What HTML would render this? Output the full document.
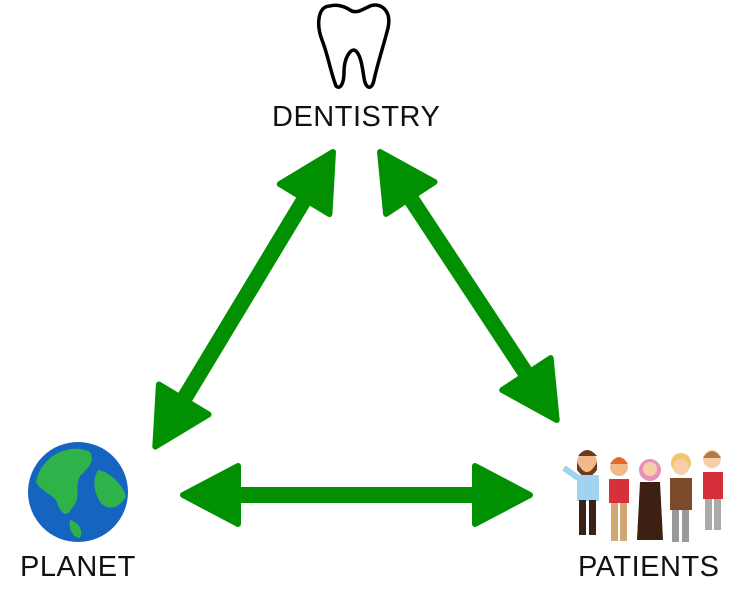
<!DOCTYPE html>
<html><head><style>
html,body{margin:0;padding:0;background:#fff;}
.t{position:absolute;font-family:"Liberation Sans",sans-serif;font-size:29px;color:#111;letter-spacing:0.5px;}
</style></head><body>
<div style="position:relative;width:743px;height:605px;overflow:hidden;">
<svg width="743" height="605" style="position:absolute;left:0;top:0">
<defs>
<g id="arr">
<polygon points="0,0 55,-29 55,29" fill="#019001" stroke="#019001" stroke-width="6" stroke-linejoin="round"/>
</g>
</defs>
<!-- left diagonal -->
<g transform="translate(333,152) rotate(121.1)">
<line x1="40" y1="0" x2="305" y2="0" stroke="#019001" stroke-width="16"/>
<use href="#arr"/>
<use href="#arr" transform="translate(344,0) rotate(180)"/>
</g>
<g transform="translate(380,152) rotate(56.6)">
<line x1="40" y1="0" x2="281" y2="0" stroke="#019001" stroke-width="16"/>
<use href="#arr"/>
<use href="#arr" transform="translate(321,0) rotate(180)"/>
</g>
<g transform="translate(183,495)">
<line x1="40" y1="0" x2="307" y2="0" stroke="#019001" stroke-width="16"/>
<use href="#arr"/>
<use href="#arr" transform="translate(347,0) rotate(180)"/>
</g>
<!-- tooth -->
<path d="M330,6 C318,6 316,24 322,40 C328,55 330,70 336,86 C340,90 344,84 344,72 C344,58 350,50 354,50 C360,52 362,64 364,78 C366,90 372,90 374,80 C378,62 384,44 388,28 C392,10 380,2 370,6 C362,10 356,14 350,10 C344,6 336,4 330,6 Z" fill="none" stroke="#000" stroke-width="3.5" stroke-linejoin="round"/>
<!-- earth -->
<circle cx="78" cy="492" r="50" fill="#1565c0"/>
<path d="M48,460 C60,448 80,446 90,452 C96,462 86,470 80,476 C74,488 82,498 72,508 C66,520 60,512 56,500 C48,492 40,490 36,482 C38,472 42,466 48,460 Z" fill="#2db34a"/>
<path d="M98,470 C110,472 122,484 126,496 C120,508 108,512 100,502 C94,492 92,480 98,470 Z" fill="#2db34a"/>
<path d="M70,520 C78,522 84,530 80,538 C74,538 68,530 70,520 Z" fill="#2db34a"/>
<!-- people -->
<g>
<circle cx="587" cy="462" r="10" fill="#f2b98a"/><path d="M577,462 q10,20 20,0 v8 q-10,14 -20,0z" fill="#6b3b1e"/><path d="M578,456 q9,-12 19,0z" fill="#6b3b1e"/>
<rect x="577" y="475" width="22" height="26" fill="#9fd3ee"/><line x1="578" y1="478" x2="564" y2="468" stroke="#9fd3ee" stroke-width="6"/>
<rect x="579" y="500" width="7" height="35" fill="#3a2216"/><rect x="589" y="500" width="7" height="35" fill="#3a2216"/>
<circle cx="619" cy="467" r="9" fill="#f2b98a"/><path d="M610,464 q9,-14 18,0z" fill="#e06a2a"/>
<rect x="609" y="479" width="20" height="24" fill="#d6313a"/><rect x="611" y="503" width="7" height="38" fill="#d2a774"/><rect x="620" y="503" width="7" height="38" fill="#d2a774"/>
<circle cx="650" cy="470" r="11" fill="#e890b8"/><circle cx="650" cy="469" r="7" fill="#f6cfa8"/>
<path d="M640,482 h20 l3,58 h-26z" fill="#3b2013"/>
<circle cx="681" cy="463" r="10" fill="#f2c56a"/><circle cx="681" cy="467" r="8" fill="#f6cfa8"/>
<rect x="670" y="478" width="22" height="32" fill="#7a4a2a"/><rect x="672" y="510" width="7" height="32" fill="#999"/><rect x="682" y="510" width="7" height="32" fill="#999"/>
<circle cx="712" cy="459" r="9" fill="#f6cfa8"/><path d="M703,458 q9,-14 18,0z" fill="#b07a48"/>
<rect x="703" y="472" width="20" height="27" fill="#d6313a"/><rect x="705" y="499" width="7" height="31" fill="#aaa"/><rect x="714" y="499" width="7" height="31" fill="#aaa"/>
</g>
</svg>
<div class="t" style="left:272px;top:101px;">DENTISTRY</div>
<div class="t" style="left:20px;top:551px;">PLANET</div>
<div class="t" style="left:578px;top:551px;">PATIENTS</div>
</div>
</body></html>
